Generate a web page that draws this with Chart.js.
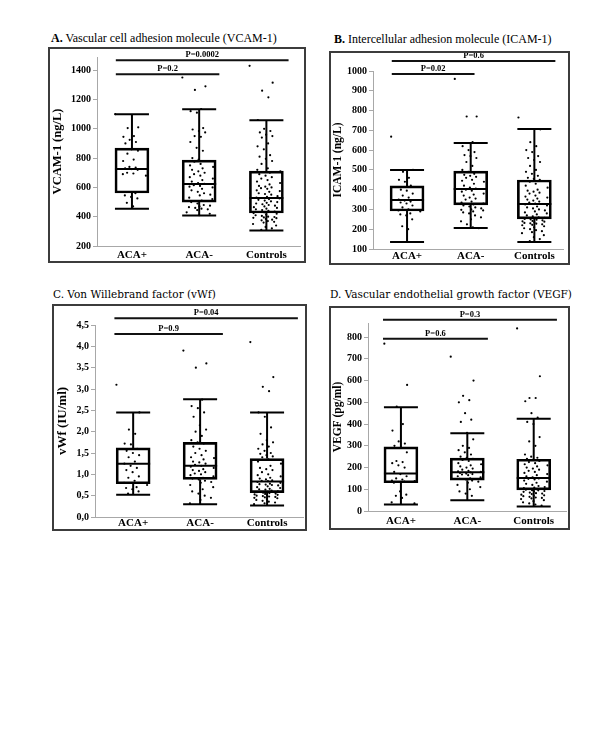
<!DOCTYPE html>
<html>
<head>
<meta charset="utf-8">
<script src="https://cdn.jsdelivr.net/npm/chart.js@4.4.1/dist/chart.umd.min.js"></script>
<style>
  body { margin: 0; background: #fff; width: 600px; height: 749px; position: relative; }
  .title { position: absolute; white-space: nowrap; color: #000; line-height: 1; }
  .ab { font-family: "Liberation Serif", "Times New Roman", serif; font-size: 12px; }
  .cd { font-family: "DejaVu Serif", serif; font-size: 10.5px; }
  .frame { position: absolute; border: 2px solid #3c3c3c; box-sizing: border-box; }
  .frame canvas { display: block; }
</style>
</head>
<body>
<div class="title ab" style="left:51px;top:32px"><b>A.</b> Vascular cell adhesion molecule (VCAM-1)</div>
<div class="title ab" style="left:334px;top:33px"><b>B.</b> Intercellular adhesion molecule (ICAM-1)</div>
<div class="title cd" style="left:53px;top:289px">C. Von Willebrand factor (vWf)</div>
<div class="title cd" style="left:330px;top:289px">D. Vascular endothelial growth factor (VEGF)</div>

<div class="frame" style="left:48px;top:47px;width:258px;height:216px"><canvas id="chartA" width="254" height="212"></canvas></div>
<div class="frame" style="left:329px;top:51px;width:241px;height:214px"><canvas id="chartB" width="237" height="210"></canvas></div>
<div class="frame" style="left:52px;top:304px;width:255px;height:227px"><canvas id="chartC" width="251" height="223"></canvas></div>
<div class="frame" style="left:329px;top:306px;width:241px;height:224px"><canvas id="chartD" width="237" height="220"></canvas></div>

<script>
// groups on the x axis
const groups = ["ACA+", "ACA-", "Controls"];

// A. VCAM-1 (ng/L)
const vcamLow = [455, 408, 305];
const vcamQ1 = [562, 500, 425];
const vcamMedian = [725, 623, 527];
const vcamQ3 = [868, 786, 711];
const vcamHigh = [1100, 1134, 1058];
const vcamAcaPos = [1100, 1010, 1005, 950, 945, 925, 910, 900, 860, 850, 830, 790, 780, 740, 735, 730, 725, 720, 700, 695, 690, 680, 560, 545, 535, 525, 495, 470];
const vcamAcaNeg = [1350, 1290, 1265, 1135, 1120, 1110, 1005, 995, 985, 975, 950, 945, 910, 870, 850, 800, 790, 780, 775, 760, 750, 740, 730, 720, 710, 700, 690, 680, 670, 660, 650, 640, 630, 625, 615, 610, 605, 600, 590, 580, 570, 560, 550, 545, 530, 520, 510, 500, 490, 480, 475, 470, 465, 460, 455, 450, 445, 430, 420, 410];
const vcamControls = [1430, 1315, 1260, 1215, 1060, 1000, 985, 975, 960, 950, 940, 900, 880, 860, 820, 810, 795, 780, 760, 730, 720, 710, 700, 690, 680, 670, 660, 650, 640, 630, 620, 610, 605, 600, 595, 590, 580, 575, 570, 560, 555, 550, 540, 535, 530, 525, 520, 515, 510, 505, 500, 495, 490, 485, 480, 475, 470, 465, 460, 455, 450, 445, 440, 435, 430, 425, 420, 415, 410, 405, 400, 398, 395, 392, 390, 385, 380, 375, 370, 365, 360, 350, 340, 330, 320, 310];
const vcamPLabels = ["P=0.2", "P=0.0002"];
const vcamPLevels = [1373, 1468];

// B. ICAM-1 (ng/L)
const icamLow = [135, 206, 136];
const icamQ1 = [292, 323, 252];
const icamMedian = [348, 403, 328];
const icamQ3 = [419, 494, 449];
const icamHigh = [500, 636, 707];
const icamAcaPos = [668, 500, 490, 460, 450, 440, 420, 400, 395, 380, 370, 360, 350, 345, 340, 335, 330, 320, 310, 300, 295, 290, 280, 275, 270, 250, 215, 200];
const icamAcaNeg = [960, 770, 770, 640, 620, 600, 590, 575, 570, 560, 540, 520, 500, 490, 480, 475, 470, 465, 460, 450, 445, 440, 430, 420, 410, 405, 400, 395, 390, 380, 375, 370, 360, 355, 350, 340, 335, 330, 325, 320, 315, 310, 305, 300, 298, 295, 290, 285, 280, 270, 260, 250, 240, 225, 210, 205];
const icamControls = [765, 705, 640, 620, 600, 590, 570, 560, 550, 540, 520, 500, 490, 480, 470, 460, 455, 450, 440, 430, 420, 410, 400, 395, 390, 385, 380, 370, 365, 360, 355, 350, 345, 340, 335, 330, 325, 320, 315, 310, 305, 300, 295, 290, 285, 280, 275, 270, 265, 260, 258, 255, 252, 250, 248, 245, 242, 240, 238, 235, 232, 230, 228, 225, 222, 220, 215, 210, 205, 200, 195, 190, 185, 180, 170, 160, 150, 140];
const icamPLabels = ["P=0.02", "P=0.6"];
const icamPLevels = [985, 1051];

// C. vWf (IU/ml)
const vwfLow = [0.52, 0.3, 0.27];
const vwfQ1 = [0.78, 0.88, 0.57];
const vwfMedian = [1.25, 1.2, 0.83];
const vwfQ3 = [1.62, 1.75, 1.37];
const vwfHigh = [2.45, 2.76, 2.45];
const vwfAcaPos = [3.1, 2.45, 2.05, 1.95, 1.72, 1.7, 1.6, 1.55, 1.5, 1.45, 1.4, 1.3, 1.25, 1.2, 1.15, 1.1, 1.05, 0.95, 0.92, 0.85, 0.8, 0.75, 0.7, 0.68, 0.65, 0.6, 0.55];
const vwfAcaNeg = [3.9, 3.6, 3.5, 2.75, 2.6, 2.55, 2.45, 2.35, 2.15, 2.05, 2.0, 1.9, 1.8, 1.75, 1.72, 1.65, 1.6, 1.55, 1.5, 1.45, 1.4, 1.38, 1.35, 1.3, 1.28, 1.25, 1.22, 1.2, 1.18, 1.15, 1.12, 1.1, 1.08, 1.05, 1.02, 1.0, 0.98, 0.95, 0.92, 0.9, 0.88, 0.85, 0.82, 0.8, 0.75, 0.7, 0.65, 0.6, 0.55, 0.5, 0.45, 0.4, 0.32];
const vwfControls = [4.1, 3.28, 3.05, 2.95, 2.45, 2.35, 2.1, 1.95, 1.8, 1.75, 1.7, 1.65, 1.6, 1.55, 1.5, 1.48, 1.45, 1.42, 1.4, 1.35, 1.3, 1.25, 1.2, 1.15, 1.12, 1.1, 1.05, 1.0, 0.98, 0.95, 0.92, 0.9, 0.88, 0.86, 0.85, 0.84, 0.82, 0.8, 0.78, 0.77, 0.76, 0.75, 0.74, 0.72, 0.7, 0.68, 0.66, 0.65, 0.64, 0.62, 0.6, 0.59, 0.58, 0.57, 0.56, 0.55, 0.54, 0.53, 0.52, 0.51, 0.5, 0.49, 0.48, 0.47, 0.46, 0.45, 0.44, 0.42, 0.4, 0.38, 0.36, 0.34, 0.32, 0.3];
const vwfPLabels = ["P=0.9", "P=0.04"];
const vwfPLevels = [4.29, 4.66];

// D. VEGF (pg/ml)
const vegfLow = [30, 50, 21];
const vegfQ1 = [130, 142, 97];
const vegfMedian = [173, 178, 152];
const vegfQ3 = [295, 243, 238];
const vegfHigh = [477, 358, 425];
const vegfAcaPos = [770, 580, 480, 400, 370, 320, 310, 300, 290, 270, 230, 225, 220, 210, 200, 180, 170, 160, 150, 145, 140, 138, 135, 130, 90, 75, 70, 60, 40, 35];
const vegfAcaNeg = [710, 600, 530, 510, 500, 450, 420, 410, 360, 330, 300, 290, 280, 270, 260, 250, 245, 240, 235, 230, 220, 215, 210, 205, 200, 195, 190, 185, 182, 180, 178, 175, 172, 170, 168, 165, 160, 155, 150, 148, 145, 140, 135, 130, 120, 110, 100, 90, 80, 70];
const vegfControls = [840, 620, 520, 520, 505, 450, 430, 410, 400, 340, 320, 300, 260, 250, 245, 240, 235, 230, 225, 220, 215, 210, 205, 200, 195, 190, 185, 180, 175, 170, 165, 160, 155, 150, 148, 145, 140, 135, 130, 125, 120, 115, 110, 108, 105, 102, 100, 98, 96, 95, 92, 90, 88, 85, 82, 80, 78, 75, 72, 70, 68, 65, 62, 60, 58, 55, 50, 45, 40, 35, 30, 25];
const vegfPLabels = ["P=0.6", "P=0.3"];
const vegfPLevels = [793, 880];

const serif = "Liberation Serif";

// spreads the dots sideways around each group, denser near the middle (display only)
const jitter = (i) => ((((i * 0.6180339) % 1) + ((i * 0.7548777) % 1)) / 2 - 0.5) * 0.5;

function pointsFor(lists) {
  const pts = [];
  lists.forEach((vals, g) => {
    vals.forEach((v, i) => pts.push({ x: g + jitter(i), y: v }));
  });
  return pts;
}

// whiskers, caps, medians and the P-value brackets
const boxWhisker = {
  id: "boxWhisker",
  beforeDatasetsDraw(chart, args, o) {
    const { ctx } = chart;
    const x = chart.scales.x, y = chart.scales.y;
    const half = o.capWidth / 2;
    ctx.save();
    ctx.strokeStyle = "#000";
    ctx.lineWidth = 2;
    ctx.beginPath();
    o.low.forEach((lo, i) => {
      const cx = x.getPixelForValue(i);
      const yLo = y.getPixelForValue(lo);
      const yHi = y.getPixelForValue(o.high[i]);
      const yMed = y.getPixelForValue(o.median[i]);
      ctx.moveTo(cx, yLo);
      ctx.lineTo(cx, y.getPixelForValue(o.q1[i]));
      ctx.moveTo(cx, y.getPixelForValue(o.q3[i]));
      ctx.lineTo(cx, yHi);
      ctx.moveTo(cx - half, yLo);
      ctx.lineTo(cx + half, yLo);
      ctx.moveTo(cx - half, yHi);
      ctx.lineTo(cx + half, yHi);
      ctx.moveTo(cx - half, yMed);
      ctx.lineTo(cx + half, yMed);
    });
    ctx.stroke();
    ctx.restore();
  },
  afterDraw(chart, args, o) {
    const { ctx } = chart;
    const x = chart.scales.x, y = chart.scales.y;
    ctx.save();
    ctx.strokeStyle = "#111";
    ctx.fillStyle = "#000";
    ctx.lineWidth = 2;
    ctx.font = "bold 8.5px " + serif;
    ctx.textAlign = "center";
    ctx.textBaseline = "alphabetic";
    o.pLabels.forEach((label, k) => {
      const yy = y.getPixelForValue(o.pLevels[k]);
      const x0 = x.getPixelForValue(o.bracketStart);
      const x1 = x.getPixelForValue(o.bracketEnds[k]);
      ctx.beginPath();
      ctx.moveTo(x0, yy);
      ctx.lineTo(x1, yy);
      ctx.stroke();
      ctx.fillText(label, (x0 + x1) / 2, yy - 3);
    });
    ctx.restore();
  },
};

function makePanel(p) {
  const canvas = document.getElementById(p.id);
  return new Chart(canvas, {
    type: "bar",
    data: {
      datasets: [
        {
          type: "scatter",
          data: pointsFor(p.values),
          pointRadius: 1.1,
          pointHoverRadius: 1.1,
          backgroundColor: "#000",
          borderWidth: 0,
          order: 0,
        },
        {
          type: "bar",
          data: p.q1.map((v, i) => ({ x: i, y: [v, p.q3[i]] })),
          barThickness: 34,
          borderWidth: 2,
          borderColor: "#000",
          backgroundColor: "rgba(0,0,0,0)",
          borderSkipped: false,
          order: 1,
        },
      ],
    },
    options: {
      responsive: false,
      animation: false,
      events: [],
      layout: { padding: { left: 0, top: p.top, right: canvas.width - p.right, bottom: canvas.height - p.bottom - p.xH } },
      plugins: {
        legend: { display: false },
        tooltip: { enabled: false },
        boxWhisker: {
          low: p.low, q1: p.q1, median: p.median, q3: p.q3, high: p.high,
          capWidth: 34,
          pLabels: p.pLabels, pLevels: p.pLevels,
          bracketStart: p.bracketStart, bracketEnds: p.bracketEnds,
        },
      },
      scales: {
        x: {
          type: "linear",
          offset: false,
          min: p.xMin,
          max: p.xMax,
          afterBuildTicks: (s) => { s.ticks = groups.map((g, i) => ({ value: i })); },
          afterFit: (s) => { s.height = p.xH; },
          grid: { display: false, drawTicks: false },
          border: { color: "#a8a8a8", width: 1 },
          ticks: {
            callback: (v) => groups[v],
            color: "#000",
            font: { family: serif, weight: "bold", size: 11 },
            padding: p.xPad,
            maxRotation: 0,
            autoSkip: false,
          },
        },
        y: {
          min: p.yMin,
          max: p.yMax,
          afterFit: (s) => { s.width = p.left; },
          grid: { drawOnChartArea: false, drawTicks: true, tickLength: 4, color: "#a8a8a8" },
          border: { color: "#a8a8a8", width: 1 },
          ticks: {
            stepSize: p.step,
            includeBounds: false,
            color: "#000",
            font: { family: serif, weight: "bold", size: 10 },
            padding: 2,
            callback: p.fmt || ((v) => v),
          },
          title: {
            display: true,
            text: p.yTitle,
            color: "#000",
            font: { family: serif, weight: "bold", size: p.titleSize },
            padding: { top: p.titlePad, bottom: 0 },
          },
        },
      },
    },
    plugins: [boxWhisker],
  });
}

makePanel({
  id: "chartA", yTitle: "VCAM-1 (ng/L)", titleSize: 12.5, titlePad: 0,
  left: 47, right: 250, top: 8, bottom: 197, xH: 15, xPad: 3,
  xMin: -0.52, xMax: 2.5, yMin: 200, yMax: 1490, step: 200,
  low: vcamLow, q1: vcamQ1, median: vcamMedian, q3: vcamQ3, high: vcamHigh,
  values: [vcamAcaPos, vcamAcaNeg, vcamControls],
  pLabels: vcamPLabels, pLevels: vcamPLevels, bracketStart: -0.24, bracketEnds: [1.3, 2.33],
});

makePanel({
  id: "chartB", yTitle: "ICAM-1 (ng/L)", titleSize: 11.5, titlePad: 0,
  left: 42, right: 232, top: 18, bottom: 196, xH: 14, xPad: 1,
  xMin: -0.535, xMax: 2.45, yMin: 100, yMax: 1000, step: 100,
  low: icamLow, q1: icamQ1, median: icamMedian, q3: icamQ3, high: icamHigh,
  values: [icamAcaPos, icamAcaNeg, icamControls],
  pLabels: icamPLabels, pLevels: icamPLevels, bracketStart: -0.24, bracketEnds: [1.06, 2.33],
});

makePanel({
  id: "chartC", yTitle: "vWf (IU/ml)", titleSize: 13, titlePad: 1,
  left: 41, right: 250, top: 19, bottom: 211, xH: 12, xPad: 0,
  xMin: -0.57, xMax: 2.55, yMin: 0, yMax: 4.5, step: 0.5,
  fmt: (v) => v.toFixed(1).replace(".", ","),
  low: vwfLow, q1: vwfQ1, median: vwfMedian, q3: vwfQ3, high: vwfHigh,
  values: [vwfAcaPos, vwfAcaNeg, vwfControls],
  pLabels: vwfPLabels, pLevels: vwfPLevels, bracketStart: -0.28, bracketEnds: [1.34, 2.46],
});

makePanel({
  id: "chartD", yTitle: "VEGF (pg/ml)", titleSize: 11.5, titlePad: 0,
  left: 37, right: 236, top: 15, bottom: 203, xH: 17, xPad: 4,
  xMin: -0.496, xMax: 2.5, yMin: 0, yMax: 865, step: 100,
  low: vegfLow, q1: vegfQ1, median: vegfMedian, q3: vegfQ3, high: vegfHigh,
  values: [vegfAcaPos, vegfAcaNeg, vegfControls],
  pLabels: vegfPLabels, pLevels: vegfPLevels, bracketStart: -0.27, bracketEnds: [1.31, 2.35],
});
</script>
</body>
</html>
